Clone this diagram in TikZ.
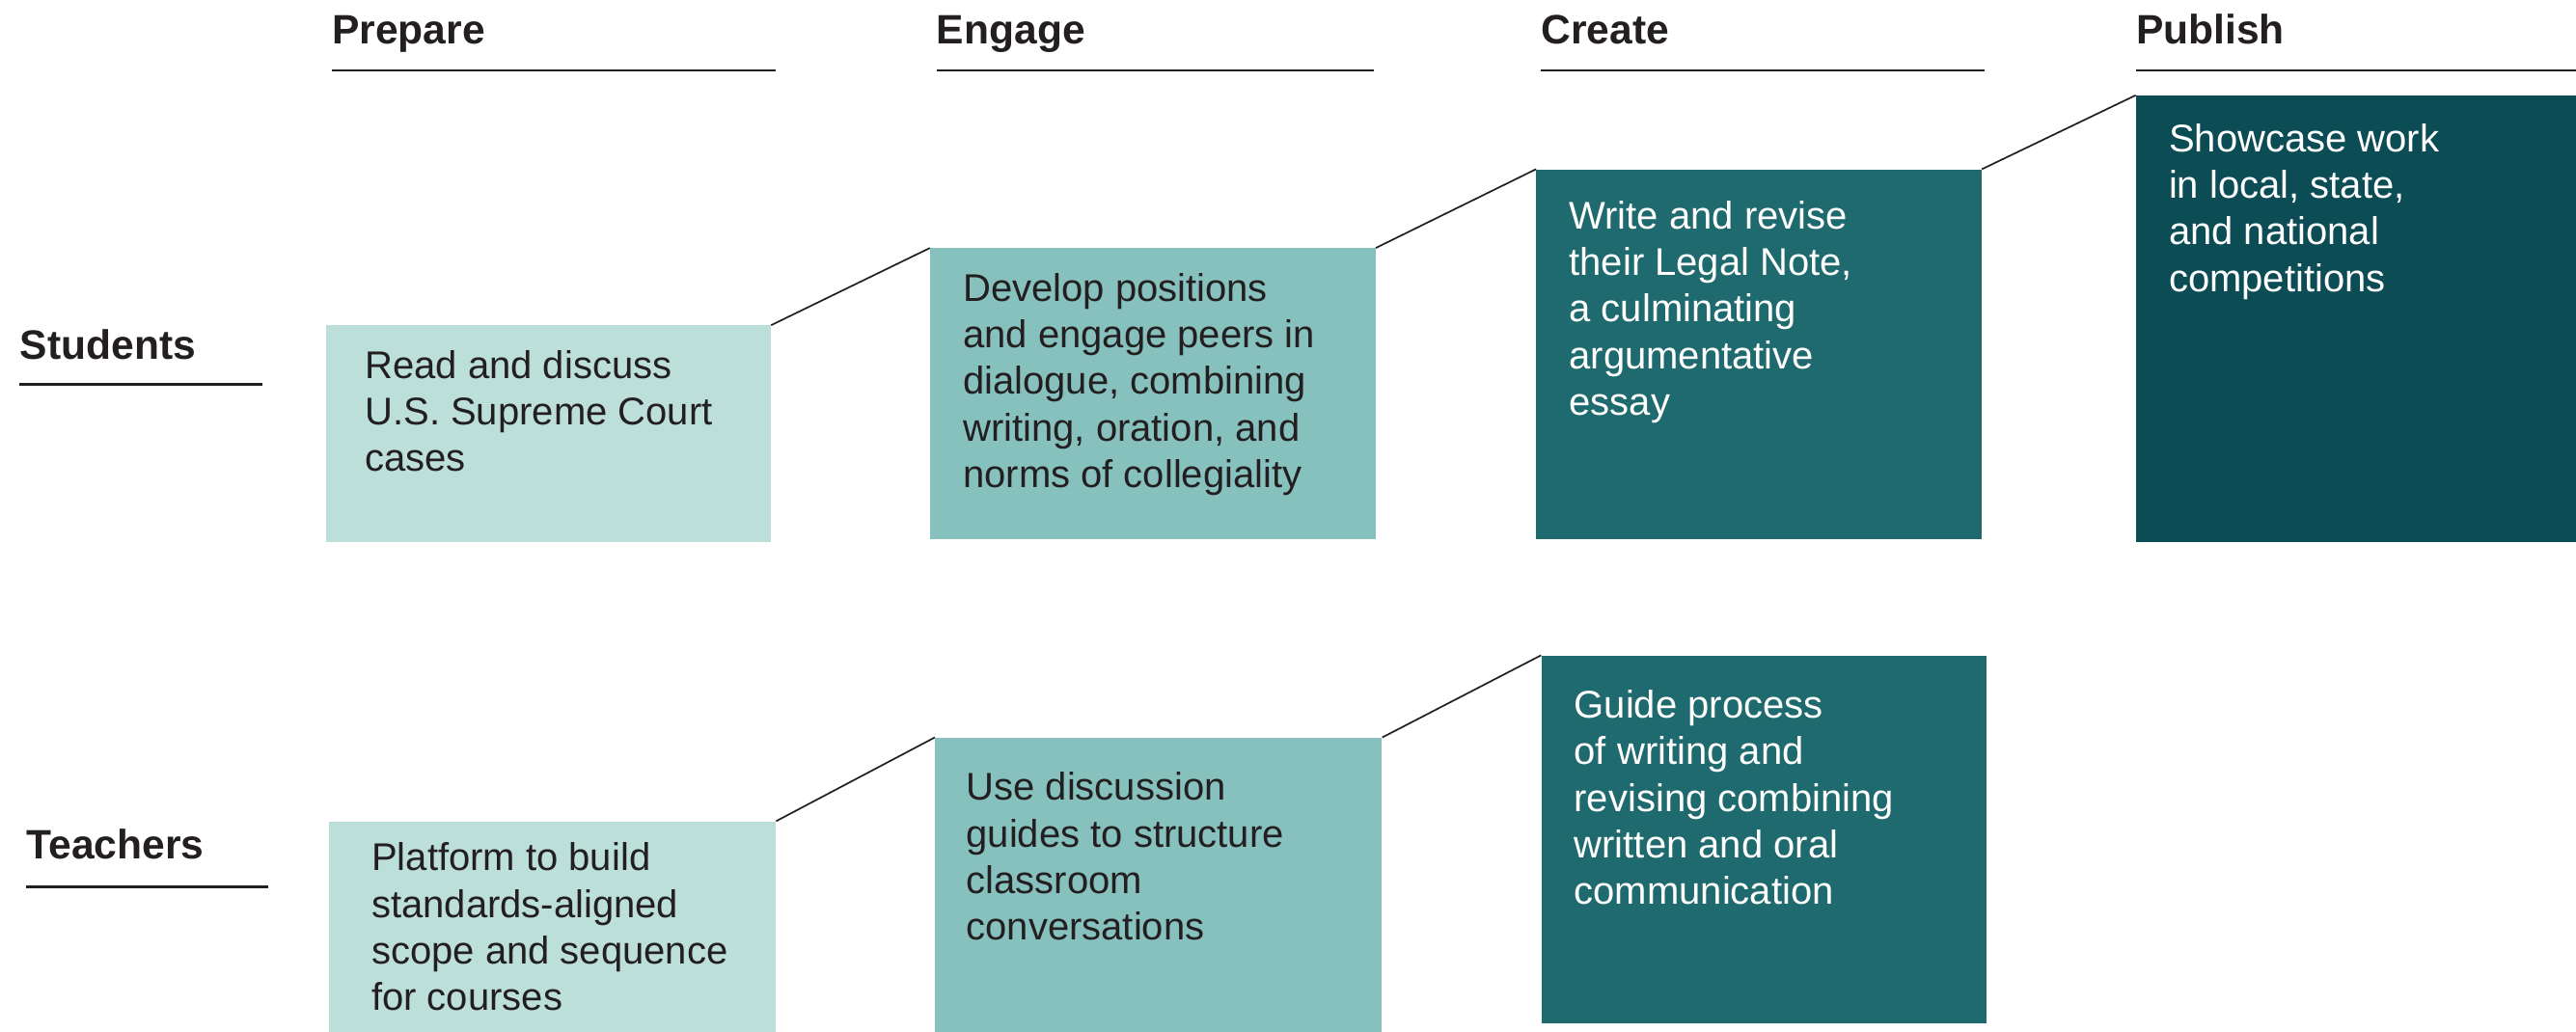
\documentclass[tikz,border=0pt]{standalone}
\usepackage{fontspec}
\setmainfont{Liberation Sans}
\usetikzlibrary{positioning}

\definecolor{paleteal}{HTML}{BCDFD9}
\definecolor{midteal}{HTML}{87C1BE}
\definecolor{deepteal}{HTML}{1F6A6E}
\definecolor{darkteal}{HTML}{0B4C55}
\definecolor{inkgray}{HTML}{231F20}

\begin{document}
\begin{tikzpicture}[x=1pt, y=-1pt,
    head/.style={font=\fontsize{25}{30}\selectfont\bfseries, text=inkgray, inner sep=0pt, anchor=base west},
    rule/.style={line width=1.5pt, inkgray},
    card/.style={fill=#1, draw=none, anchor=north west, inner sep=0pt, minimum width=271pt},
    blurb/.style={font=\fontsize{23.5}{28.4}\selectfont, align=left, inner sep=0pt, anchor=north west, text=inkgray},
    lightblurb/.style={blurb, text=white},
    link/.style={line width=1pt, inkgray},
]
\useasboundingbox (0,0) rectangle (1568,628);

% Column heads
\node[head] (hprep) at (202,27) {Prepare};
\node[head] (heng)  at (570,27) {Engage};
\node[head] (hcre)  at (938,27) {Create};
\node[head] (hpub)  at (1300,27) {Publish};
\draw[rule] (202,43) -- (472,43);
\draw[rule] (570,43) -- (836,43);
\draw[rule] (938,43) -- (1208,43);
\draw[rule] (1300,43) -- (1568,43);

% Row heads
\node[head] (rstu) at (12,219) {Students};
\node[head] (rtea) at (16,523) {Teachers};
\draw[rule] (12,234) -- (160,234);
\draw[rule] (16,540) -- (163,540);

% Students (top)
\node[card=paleteal, minimum height=132pt] (s1) at (198,198) {};
\node[card=midteal,  minimum height=177pt] (s2) at (566,151) {};
\node[card=deepteal, minimum height=225pt] (s3) at (935,103) {};
\node[card=darkteal, minimum height=272pt, minimum width=268pt] (s4) at (1300,58) {};

\node[blurb, below right=15pt and 24pt of s1.north west] (s1t) {Read and discuss\\U.S. Supreme Court\\cases};
\node[blurb, below right=15pt and 20pt of s2.north west] (s2t) {Develop positions\\and engage peers in\\dialogue, combining\\writing, oration, and\\norms of collegiality};
\node[lightblurb, below right=19pt and 20pt of s3.north west] (s3t) {Write and revise\\their Legal Note,\\a culminating\\argumentative\\essay};
\node[lightblurb, below right=17pt and 20pt of s4.north west] (s4t) {Showcase work\\in local, state,\\and national\\competitions};

\draw[link] (s1.north east) -- (s2.north west);
\draw[link] (s2.north east) -- (s3.north west);
\draw[link] (s3.north east) -- (s4.north west);

% Teachers (bottom)
\node[card=paleteal, minimum height=128pt, minimum width=272pt] (t1) at (200,500) {};
\node[card=midteal,  minimum height=179pt, minimum width=272pt] (t2) at (569,449) {};
\node[card=deepteal, minimum height=224pt] (t3) at (938,399) {};

\node[blurb, below right=13pt and 26pt of t1.north west] (t1t) {Platform to build\\standards-aligned\\scope and sequence\\for courses};
\node[blurb, below right=21pt and 19pt of t2.north west] (t2t) {Use discussion\\guides to structure\\classroom\\conversations};
\node[lightblurb, below right=21pt and 20pt of t3.north west] (t3t) {Guide process\\of writing and\\revising combining\\written and oral\\communication};

\draw[link] (t1.north east) -- (t2.north west);
\draw[link] (t2.north east) -- (t3.north west);

\end{tikzpicture}
\end{document}
